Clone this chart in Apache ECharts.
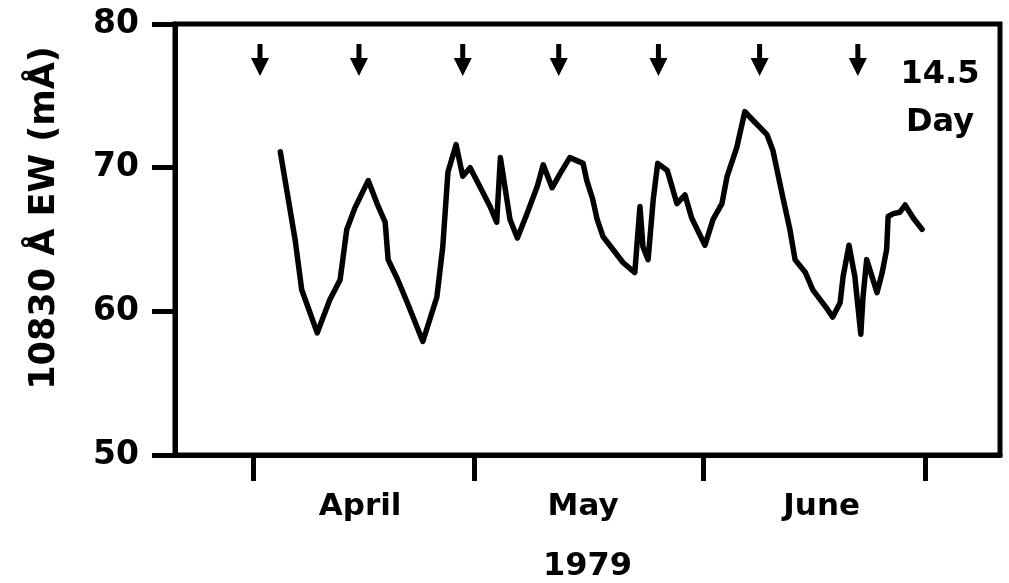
<!DOCTYPE html>
<html>
<head>
<meta charset="utf-8">
<script src="https://cdn.jsdelivr.net/npm/echarts@6/dist/echarts.min.js"></script>
<style>
  html, body { margin: 0; padding: 0; background: #fff; }
  #chart { width: 1009px; height: 583px; }
</style>
</head>
<body>
<div id="chart"></div>
<script>
// Days counted from 1 April 1979 (0 = Apr 1)
const days = [3.7, 5.7, 6.6, 8.7, 10.4, 11.8, 12.7, 13.8, 15.6, 16.8, 17.9, 18.3, 19.6, 20.9, 23.0,
  24.9, 25.7, 26.4, 27.5, 28.4, 29.4, 30.7, 32.1, 33.0, 33.5, 34.8, 35.8, 37.1, 38.5, 39.3, 40.5,
  41.6, 42.9, 44.7, 45.2, 46.0, 46.6, 47.4, 48.3, 50.1, 51.7, 52.4, 52.8, 53.5, 54.2, 54.8, 56.1,
  57.4, 58.5, 59.4, 61.2, 62.3, 63.5, 64.2, 65.5, 66.6, 67.7, 69.6, 70.4, 71.8, 72.7, 73.4, 74.8,
  75.8, 77.7, 78.5, 79.5, 79.9, 80.7, 81.5, 82.3, 82.6, 83.1, 84.5, 85.2, 85.8, 86.0, 86.7, 87.6,
  88.3, 89.4, 90.6];
const ew = [71.1, 65.0, 61.5, 58.5, 60.8, 62.2, 65.7, 67.2, 69.1, 67.5, 66.2, 63.6, 62.2, 60.6, 57.9,
  61.0, 64.5, 69.7, 71.6, 69.4, 70.0, 68.7, 67.3, 66.2, 70.7, 66.4, 65.1, 66.8, 68.7, 70.2, 68.6,
  69.6, 70.7, 70.3, 69.1, 67.8, 66.4, 65.2, 64.6, 63.4, 62.7, 67.3, 64.5, 63.6, 67.8, 70.3, 69.8,
  67.5, 68.1, 66.5, 64.6, 66.4, 67.5, 69.4, 71.4, 73.9, 73.3, 72.3, 71.2, 67.8, 65.7, 63.6, 62.7,
  61.5, 60.2, 59.6, 60.6, 62.4, 64.6, 62.4, 58.4, 61.0, 63.6, 61.3, 62.7, 64.3, 66.6, 66.8, 66.9,
  67.4, 66.5, 65.7];
// 14.5-day period markers (arrows)
const arrowDays = [0.95, 14.35, 28.4, 41.4, 54.9, 68.6, 81.9];
const arrowLevel = 77.5;
// Axis ticks / labels
const yTicks = [50, 60, 70, 80];
const monthTickDays = [0, 30, 61, 91];
const monthNames = ['April', 'May', 'June'];
const monthLabelDays = [14.5, 44.7, 77.0];
const yearLabel = '1979';
const yTitle = '10830 Å EW (mÅ)';
const periodLabel = '14.5\nDay';

const FONT = 'DejaVu Sans';
const chart = echarts.init(document.getElementById('chart'), null, { renderer: 'canvas' });

const arrowPath = 'path://M6.5,0 L11.5,0 L11.5,14 L18,14 L9,32 L0,14 L6.5,14 Z';

chart.setOption({
  animation: false,
  backgroundColor: '#fff',
  grid: {
    left: 175, right: 9, top: 24, bottom: 128,
    outerBoundsMode: 'none', containLabel: false,
    show: true, borderColor: '#000', borderWidth: 5, backgroundColor: 'transparent'
  },
  xAxis: {
    type: 'value',
    min: -10.56, max: 101.15,
    splitLine: { show: false },
    axisLine: { show: true, onZero: false, lineStyle: { color: '#000', width: 5 } },
    axisTick: { show: true, customValues: monthTickDays, length: 26, lineStyle: { color: '#000', width: 5 } },
    axisLabel: {
      show: true, customValues: monthLabelDays, margin: 36,
      color: '#000', fontFamily: FONT, fontWeight: 'bold', fontSize: 31,
      formatter: function (v) {
        const i = monthLabelDays.indexOf(v);
        return i >= 0 ? monthNames[i] : '';
      }
    },
    name: yearLabel, nameLocation: 'middle', nameGap: 96,
    nameTextStyle: { color: '#000', fontFamily: FONT, fontWeight: 'bold', fontSize: 32 }
  },
  yAxis: {
    type: 'value', min: 50, max: 80, interval: 10,
    splitLine: { show: false },
    axisLine: { show: true, onZero: false, lineStyle: { color: '#000', width: 5 } },
    axisTick: { show: true, customValues: yTicks, length: 23, lineStyle: { color: '#000', width: 5 } },
    axisLabel: {
      show: true, margin: 36, color: '#000',
      fontFamily: FONT, fontWeight: 'bold', fontSize: 33
    }
  },
  graphic: [
    {
      type: 'text', x: 45, y: 218, rotation: Math.PI / 2,
      style: {
        text: yTitle, fill: '#000', font: 'bold 35px "' + FONT + '"',
        align: 'center', verticalAlign: 'middle'
      }
    },
    {
      type: 'text', x: 940, y: 99,
      style: {
        text: periodLabel, fill: '#000', font: 'bold 32px "' + FONT + '"',
        align: 'center', verticalAlign: 'middle', lineHeight: 48
      }
    }
  ],
  series: [
    {
      type: 'line',
      data: days.map((d, i) => [d, ew[i]]),
      showSymbol: false,
      lineStyle: { color: '#000', width: 5.5, join: 'round', cap: 'round' },
      z: 3
    },
    {
      type: 'scatter',
      data: arrowDays.map(d => [d, arrowLevel]),
      symbol: arrowPath,
      symbolSize: [18, 32],
      itemStyle: { color: '#000', opacity: 1 },
      z: 4
    }
  ]
});
</script>
</body>
</html>
